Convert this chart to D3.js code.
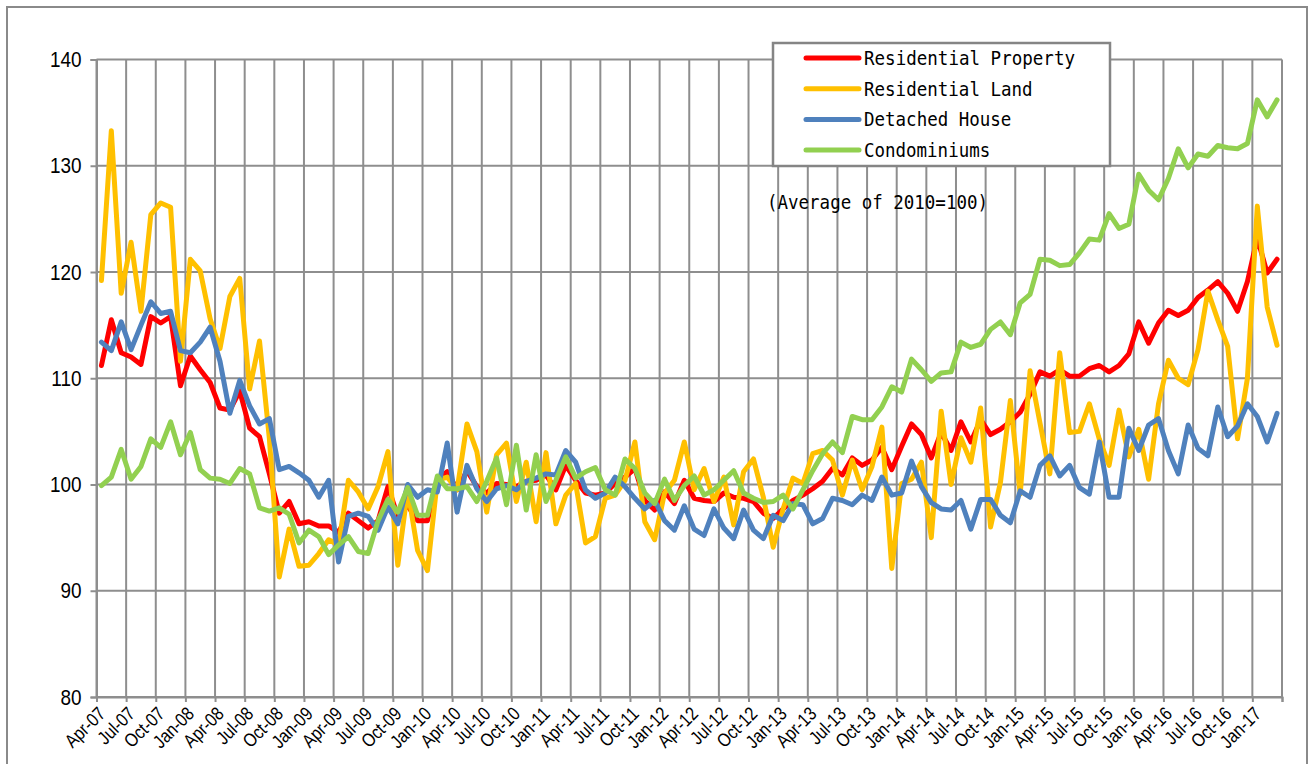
<!DOCTYPE html>
<head>
    <meta charset="UTF-8">
    <script src="https://cdnjs.cloudflare.com/ajax/libs/d3/7.8.5/d3.min.js"></script>
    <style>
        body { margin: 0; background: #fff; }
        svg { display: block; }
    </style>
</head>

<body>
    <svg id="chart"></svg>

    <script>
        //********** DATA *********************
        // monthly, Apr-07 .. Mar-17 (120 months)
        var residentialProperty = [
            111.2, 115.5, 112.4, 112.0, 111.3, 115.8, 115.2, 115.8, 109.3, 112.1, 110.8, 109.6,
            107.2, 107.0, 108.8, 105.3, 104.5, 101.0, 97.3, 98.4, 96.3, 96.5, 96.1, 96.1,
            95.5, 97.3, 96.6, 95.9, 96.6, 99.8, 97.0, 98.0, 96.6, 96.6, 100.4, 101.2,
            99.5, 101.3, 99.8, 99.2, 100.1, 100.0, 99.8, 100.3, 100.4, 100.9, 99.5, 101.8,
            100.4, 99.2, 99.0, 99.2, 100.1, 100.7, 101.5, 98.5, 97.6, 99.3, 98.2, 100.4,
            98.7, 98.5, 98.4, 99.2, 98.8, 98.7, 98.4, 97.3, 96.8, 97.7, 98.5, 99.0,
            99.6, 100.3, 101.5, 100.9, 102.5, 101.8, 102.3, 103.5, 101.4, 103.6, 105.7, 104.7,
            102.5, 104.9, 103.2, 105.9, 104.0, 106.1, 104.7, 105.2, 105.9, 106.8, 108.5, 110.6,
            110.2, 110.8, 110.2, 110.2, 110.9, 111.2, 110.6, 111.2, 112.3, 115.3, 113.3, 115.2,
            116.4, 115.9, 116.4, 117.6, 118.3, 119.1, 118.0, 116.3, 119.1, 123.2, 119.9, 121.2];

        var residentialLand = [
            119.2, 133.3, 118.0, 122.8, 116.3, 125.4, 126.5, 126.1, 111.6, 121.2, 120.1, 115.6,
            112.8, 117.7, 119.4, 109.0, 113.5, 104.3, 91.3, 95.8, 92.3, 92.4, 93.5, 94.8,
            94.3, 100.4, 99.3, 97.7, 99.8, 103.1, 92.4, 99.5, 93.8, 91.9, 100.4, 100.7,
            99.5, 105.7, 103.1, 97.4, 102.8, 103.9, 98.4, 102.1, 96.5, 103.0, 96.3, 99.0,
            100.1, 94.5, 95.1, 98.7, 99.0, 100.4, 104.0, 96.5, 94.8, 99.2, 100.4, 104.0,
            99.5, 101.5, 98.4, 100.7, 96.2, 101.2, 102.4, 98.8, 94.1, 97.7, 100.6, 100.1,
            102.9, 103.2, 102.3, 99.0, 102.3, 99.5, 101.7, 105.4, 92.1, 100.1, 100.5, 102.1,
            95.0, 106.9, 100.0, 104.4, 102.1, 107.2, 96.0, 100.2, 107.9, 99.1, 110.7, 105.8,
            101.0, 112.4, 104.9, 105.0, 107.6, 104.3, 101.8, 107.0, 102.6, 105.2, 100.5, 107.6,
            111.7, 110.0, 109.4, 112.7, 118.2, 115.5, 113.0, 104.3, 110.0, 126.2, 116.7, 113.1];

        var detachedHouse = [
            113.4, 112.6, 115.3, 112.7, 115.0, 117.2, 116.1, 116.3, 112.6, 112.4, 113.4, 114.8,
            111.6, 106.7, 109.8, 107.4, 105.7, 106.2, 101.4, 101.7, 101.1, 100.4, 98.8, 100.4,
            92.7, 97.0, 97.3, 97.0, 95.7, 97.9, 96.3, 100.0, 98.8, 99.5, 99.3, 103.9,
            97.4, 101.8, 99.6, 98.4, 99.6, 99.9, 99.5, 100.3, 100.6, 101.0, 100.9, 103.2,
            102.1, 99.5, 98.7, 99.2, 100.7, 99.8, 98.7, 97.7, 98.5, 96.6, 95.7, 98.0,
            95.8, 95.2, 97.7, 95.9, 94.9, 97.6, 95.7, 94.9, 97.1, 96.6, 98.2, 98.1,
            96.3, 96.8, 98.7, 98.5, 98.1, 99.0, 98.5, 100.7, 99.0, 99.2, 102.2, 99.8,
            98.3, 97.7, 97.6, 98.5, 95.8, 98.6, 98.6, 97.1, 96.4, 99.4, 98.8, 101.8,
            102.7, 100.8, 101.8, 99.7, 99.1, 104.0, 98.8, 98.8, 105.3, 103.2, 105.6, 106.2,
            103.2, 101.0, 105.6, 103.4, 102.7, 107.3, 104.5, 105.5, 107.6, 106.4, 104.0, 106.7];

        var condominiums = [
            99.9, 100.7, 103.3, 100.5, 101.7, 104.3, 103.5, 105.9, 102.8, 104.9, 101.4, 100.6,
            100.5, 100.1, 101.5, 101.0, 97.8, 97.5, 97.8, 97.2, 94.5, 95.7, 95.1, 93.4,
            94.3, 95.1, 93.7, 93.5, 96.6, 98.6, 97.4, 99.7, 97.1, 97.1, 100.8, 99.6,
            99.6, 99.8, 98.4, 100.3, 102.5, 98.1, 103.7, 97.6, 102.8, 98.4, 100.4, 102.6,
            100.6, 101.2, 101.6, 99.5, 99.0, 102.4, 101.5, 99.2, 98.2, 100.5, 98.5, 99.9,
            100.8, 99.0, 99.5, 100.4, 101.3, 99.2, 98.7, 98.3, 98.4, 99.0, 97.7, 99.5,
            101.3, 102.9, 104.0, 103.0, 106.4, 106.1, 106.1, 107.3, 109.2, 108.7, 111.8, 110.8,
            109.7, 110.5, 110.6, 113.4, 112.9, 113.2, 114.6, 115.3, 114.1, 117.1, 117.9, 121.2,
            121.1, 120.6, 120.7, 121.8, 123.1, 123.0, 125.5, 124.1, 124.5, 129.2, 127.7, 126.8,
            128.8, 131.6, 129.8, 131.1, 130.9, 131.9, 131.7, 131.6, 132.1, 136.2, 134.6, 136.2];

        var seriesNames = ["Residential Property", "Residential Land", "Detached House", "Condominiums"];
        var seriesColors = ["#ff0000", "#ffc000", "#4f81bd", "#92d050"];
        var yTicks = [80, 90, 100, 110, 120, 130, 140];
        var note = "(Average of 2010=100)";

        var months = d3.timeMonth.range(new Date(2007, 3, 1), new Date(2017, 3, 1));
        var fmtMonth = d3.timeFormat("%b-%y");

        //********** LAYOUT *********************
        var width = 1311, height = 764;
        var plotLeft = 96.5, plotRight = 1282, plotTop = 59.5, plotBottom = 697;
        var gridColor = "#8e8e8e";

        var svg = d3.select("#chart").attr("width", width).attr("height", height);

        // chart area frame
        svg.append("rect")
            .attr("x", 7).attr("y", 7)
            .attr("width", 1300).attr("height", 800)
            .attr("fill", "#fff")
            .attr("stroke", "#8a8a8a")
            .attr("stroke-width", 2);

        var x = d3.scaleLinear().domain([0, months.length]).range([plotLeft, plotRight]);
        var y = d3.scaleLinear().domain([80, 140]).range([plotBottom, plotTop]);

        // horizontal grid
        svg.append("g").selectAll("line")
            .data(yTicks)
            .enter().append("line")
            .attr("x1", plotLeft).attr("x2", plotRight)
            .attr("y1", function (d) { return y(d); })
            .attr("y2", function (d) { return y(d); })
            .attr("stroke", gridColor).attr("stroke-width", 2);

        // vertical grid, every 3 months
        var quarterIdx = d3.range(0, months.length + 1, 3);
        svg.append("g").selectAll("line")
            .data(quarterIdx)
            .enter().append("line")
            .attr("x1", function (d) { return x(d); })
            .attr("x2", function (d) { return x(d); })
            .attr("y1", plotTop).attr("y2", plotBottom)
            .attr("stroke", gridColor).attr("stroke-width", 2);

        // y axis
        var yAxis = svg.append("g")
            .attr("transform", "translate(" + plotLeft + ",0)")
            .call(d3.axisLeft(y).tickValues(yTicks).tickSize(6).tickPadding(9));
        yAxis.select(".domain").attr("stroke", gridColor).attr("stroke-width", 2);
        yAxis.selectAll(".tick line").attr("stroke", gridColor).attr("stroke-width", 2);
        yAxis.selectAll(".tick text")
            .attr("font-family", "Liberation Sans, Arial, sans-serif")
            .attr("font-size", 22)
            .attr("fill", "#000")
            .each(function () {
                var w = this.getComputedTextLength();
                d3.select(this).attr("textLength", w * 0.86).attr("lengthAdjust", "spacingAndGlyphs");
            });

        // x axis ticks
        var xAxis = svg.append("g")
            .attr("transform", "translate(0," + plotBottom + ")")
            .call(d3.axisBottom(x).tickValues(quarterIdx).tickSize(5).tickFormat(""));
        xAxis.select(".domain").attr("stroke", gridColor).attr("stroke-width", 2);
        xAxis.selectAll(".tick line").attr("stroke", gridColor).attr("stroke-width", 2);

        // x labels, rotated
        svg.append("g").selectAll("text")
            .data(quarterIdx.filter(function (d) { return d < months.length; }))
            .enter().append("text")
            .attr("transform", function (d) {
                return "translate(" + (x(d + 0.5) + 5) + "," + (plotBottom + 18) + ") rotate(-45)";
            })
            .attr("text-anchor", "end")
            .attr("font-family", "Liberation Sans, Arial, sans-serif")
            .attr("font-size", 19)
            .text(function (d) { return fmtMonth(months[d]); })
            .each(function () {
                var w = this.getComputedTextLength();
                d3.select(this).attr("textLength", w * 0.84).attr("lengthAdjust", "spacingAndGlyphs");
            });

        //********** LINES *********************
        var line = d3.line()
            .x(function (d, i) { return x(i + 0.5); })
            .y(function (d) { return y(d); });

        var allSeries = [residentialProperty, residentialLand, detachedHouse, condominiums];

        svg.append("g").selectAll("path")
            .data(allSeries)
            .enter().append("path")
            .attr("d", line)
            .attr("fill", "none")
            .attr("stroke", function (d, i) { return seriesColors[i]; })
            .attr("stroke-width", 5)
            .attr("stroke-linejoin", "round")
            .attr("stroke-linecap", "round");

        //********** LEGEND *********************
        var legend = svg.append("g");
        legend.append("rect")
            .attr("x", 773).attr("y", 43)
            .attr("width", 337).attr("height", 123)
            .attr("fill", "#fff")
            .attr("stroke", "#858585")
            .attr("stroke-width", 2.5);

        var rows = legend.selectAll("g.row")
            .data(seriesNames)
            .enter().append("g")
            .attr("class", "row")
            .attr("transform", function (d, i) { return "translate(0," + (58 + i * 30.7) + ")"; });

        rows.append("line")
            .attr("x1", 806).attr("x2", 859)
            .attr("stroke", function (d, i) { return seriesColors[i]; })
            .attr("stroke-width", 5)
            .attr("stroke-linecap", "round");

        rows.append("text")
            .attr("x", 864).attr("y", 7)
            .attr("font-family", "DejaVu Sans Mono, monospace")
            .attr("font-size", 20)
            .attr("textLength", function (d) { return d.length * 10.6 - 1; })
            .attr("lengthAdjust", "spacingAndGlyphs")
            .text(function (d) { return d; });

        svg.append("text")
            .attr("x", 767).attr("y", 209)
            .attr("font-family", "DejaVu Sans Mono, monospace")
            .attr("font-size", 20)
            .attr("textLength", 221)
            .attr("lengthAdjust", "spacingAndGlyphs")
            .text(note);
    </script>
</body>
